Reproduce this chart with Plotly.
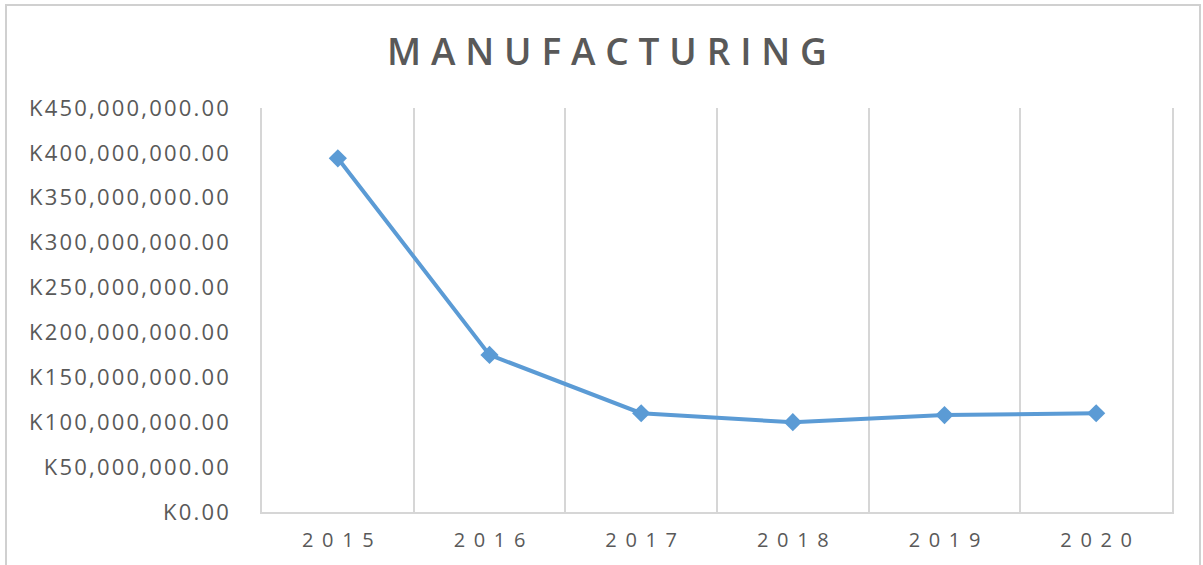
import plotly.graph_objects as go

years = ["2015", "2016", "2017", "2018", "2019", "2020"]
values = [394000000, 175000000, 110000000, 100000000, 108000000, 110000000]
y_ticks = [0, 50000000, 100000000, 150000000, 200000000, 250000000, 300000000, 350000000, 400000000, 450000000]
title_text = "MANUFACTURING"


def spaced(s, sep):
    return sep.join(list(s))


W, H = 1203, 565
L, R, T, B = 262, 31, 108, 53
pw, ph = W - L - R, H - T - B

fig = go.Figure()
fig.add_trace(go.Scatter(
    x=years, y=values, mode="lines+markers",
    line=dict(color="#5b9bd5", width=4),
    marker=dict(symbol="diamond", size=14, color="#5b9bd5"),
    showlegend=False,
))

grey = "#595959"
fig.update_layout(
    width=W, height=H,
    margin=dict(l=L, r=R, t=T, b=B),
    paper_bgcolor="white", plot_bgcolor="white",
    title=dict(text=spaced(title_text, "\u2009\u200a"), x=607 / W, xanchor="center",
               y=1 - 52 / H, yanchor="middle",
               font=dict(family="Open Sans", size=37, color=grey, weight=600)),
    xaxis=dict(
        type="category", tickson="boundaries", showgrid=True,
        gridcolor="#d6d6d6", gridwidth=1.5,
        showline=True, linecolor="#d6d6d6", linewidth=1.5, mirror=False,
        ticks="", tickvals=years, ticktext=[spaced(y, "\u2009\u2009\u200a") for y in years],
        tickfont=dict(family="Open Sans", size=20, color=grey),
        ticklabelstandoff=9,
        range=[-0.5, 5.5],
    ),
    yaxis=dict(
        range=[0, 450000000], tickvals=y_ticks,
        ticktext=[spaced(f"K{v:,.2f}", "\u200a") for v in y_ticks],
        showgrid=False, zeroline=False,
        showline=True, mirror=True, linecolor="#d6d6d6", linewidth=1.5,
        ticks="",
        tickfont=dict(family="Open Sans", size=22, color=grey),
        ticklabelstandoff=27,
    ),
    shapes=[dict(
        type="rect", xref="paper", yref="paper",
        x0=(6 - L) / pw, x1=(1200 - L) / pw,
        y0=(H - B - 575) / ph, y1=(H - B - 5) / ph,
        line=dict(color="#d0d0d0", width=2), fillcolor="rgba(0,0,0,0)", layer="below",
    )],
)

fig.write_html("out.html")
